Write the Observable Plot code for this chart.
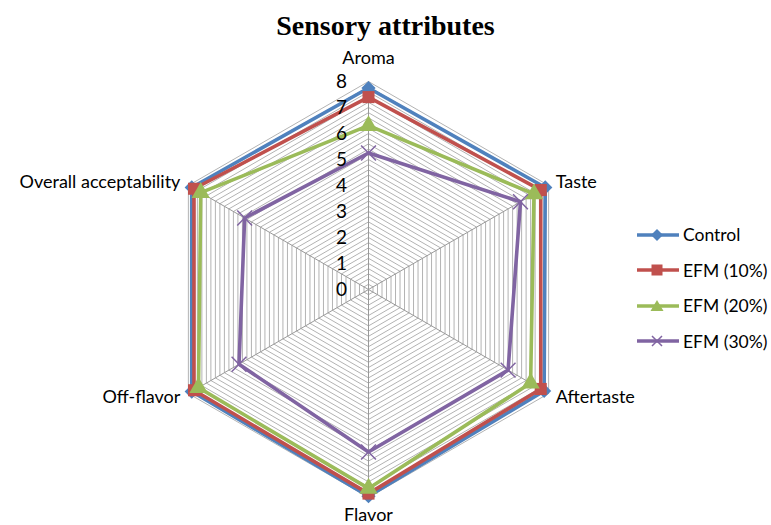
<!DOCTYPE html>
<html><head><meta charset="utf-8">
<script src="https://cdn.jsdelivr.net/npm/d3@7"></script>
<script src="https://cdn.jsdelivr.net/npm/@observablehq/plot@0.6"></script>
<style>
body{margin:0;background:#fff;}
#wrap{position:relative;width:771px;height:525px;overflow:hidden;}
#title{position:absolute;top:10px;left:0;width:771px;text-align:center;font-family:"Liberation Serif",serif;font-weight:bold;font-size:28px;color:#000;}
#legend{position:absolute;left:636px;top:217px;font-family:Lato,"Open Sans",sans-serif;font-size:17.5px;}
.li{height:35.5px;display:flex;align-items:center;}
.li svg{margin-right:3px;}
</style></head>
<body><div id="wrap"><div id="title">Sensory attributes</div><div id="chart"></div><div id="legend"></div></div>
<script>
const axes = ["Aroma","Taste","Aftertaste","Flavor","Off-flavor","Overall acceptability"];
const seriesNames = ["Control","EFM (10%)","EFM (20%)","EFM (30%)"];
const control = [7.75, 7.85, 7.8, 7.95, 7.85, 7.85];
const efm10   = [7.4, 7.65, 7.65, 7.85, 7.75, 7.75];
const efm20   = [6.3, 7.35, 7.2, 7.65, 7.55, 7.45];
const efm30   = [5.25, 6.75, 6.2, 6.25, 5.75, 5.5];
const colors = ["#4F81BD","#C0504D","#9BBB59","#8064A2"];
const symbols = ["diamond2","square","triangle","times"];
const tickValues = [0,1,2,3,4,5,6,7,8];
const maxValue = 8;
const gridStep = 0.2;

const allValues = [control, efm10, efm20, efm30];
const ang = i => i * Math.PI / 3;
const px = (r, i) => r * Math.sin(ang(i));
const py = (r, i) => r * Math.cos(ang(i));

const gridLevels = d3.range(1, Math.round(maxValue / gridStep) + 1).map(k => k * gridStep);
const gridPts = [];
gridLevels.forEach(l => {
  for (let i = 0; i <= axes.length; i++) gridPts.push({level: l, x: px(l, i % 6), y: py(l, i % 6)});
});
const spokes = axes.map((a, i) => ({x1: 0, y1: 0, x2: px(maxValue, i), y2: py(maxValue, i)}));

const seriesPts = [];
const markerPts = [];
allValues.forEach((vals, s) => {
  for (let i = 0; i <= axes.length; i++) {
    const v = vals[i % 6];
    seriesPts.push({series: seriesNames[s], x: px(v, i % 6), y: py(v, i % 6)});
  }
  vals.forEach((v, i) => markerPts.push({series: seriesNames[s], s, x: px(v, i), y: py(v, i)}));
});

const labelOpts = [
  {dx: 0, dy: -23, anchor: "middle"},
  {dx: 7, dy: -3, anchor: "start"},
  {dx: 7, dy: 4, anchor: "start"},
  {dx: 0, dy: 18, anchor: "middle"},
  {dx: -8, dy: 4, anchor: "end"},
  {dx: -8, dy: -3, anchor: "end"}
];
const axisLabels = axes.map((a, i) => ({label: a, x: px(maxValue, i), y: py(maxValue, i)}));

const markerMarks = seriesNames.map((n, s) => Plot.dot(markerPts.filter(d => d.s === s), {
  x: "x", y: "y", symbol: symbols[s], r: s === 0 ? 6.4 : 6.8,
  fill: s === 3 ? "none" : colors[s], stroke: colors[s], strokeWidth: s === 3 ? 1.5 : 0
}));

const labelMarks = axisLabels.map((d, i) => Plot.text([d], {
  x: "x", y: "y", text: "label", textAnchor: labelOpts[i].anchor,
  dx: labelOpts[i].dx, dy: labelOpts[i].dy, fontSize: 18, fill: "#000"
}));

const chart = Plot.plot({
  width: 771, height: 525,
  x: {domain: [-maxValue, maxValue], range: [160, 576], axis: null},
  y: {domain: [-maxValue, maxValue], range: [497, 81], axis: null},
  color: {domain: seriesNames, range: colors},
  style: {fontFamily: "Lato, 'Open Sans', sans-serif", background: "transparent"},
  marks: [
    Plot.line(gridPts, {x: "x", y: "y", z: "level", stroke: "#b3b3b3", strokeWidth: 1}),
    Plot.link(spokes, {x1: "x1", y1: "y1", x2: "x2", y2: "y2", stroke: "#999", strokeWidth: 1}),
    Plot.line(seriesPts, {x: "x", y: "y", z: "series", stroke: "series", strokeWidth: 3.6, strokeLinejoin: "miter"}),
    ...markerMarks,
    Plot.text(tickValues, {x: 0, y: d => d, text: d => String(d), dx: -27, fontSize: 19, fill: "#000"}),
    ...labelMarks
  ]
});
document.getElementById("chart").appendChild(chart);

// legend
const legend = document.getElementById("legend");
seriesNames.forEach((n, s) => {
  const div = document.createElement("div");
  div.className = "li";
  let sym = "";
  if (s === 0) sym = `<path d="M21,3 L27,9 L21,15 L15,9Z" fill="${colors[s]}"/>`;
  if (s === 1) sym = `<rect x="15.5" y="3.5" width="11" height="11" fill="${colors[s]}"/>`;
  if (s === 2) sym = `<path d="M21,3 L27.5,14 L14.5,14Z" fill="${colors[s]}"/>`;
  if (s === 3) sym = `<path d="M16,4 L26,14 M26,4 L16,14" stroke="${colors[s]}" stroke-width="1.5"/>`;
  div.innerHTML = `<svg width="44" height="18"><line x1="1" y1="9" x2="43" y2="9" stroke="${colors[s]}" stroke-width="3.5"/>${sym}</svg><span>${n}</span>`;
  legend.appendChild(div);
});
</script></body></html>
